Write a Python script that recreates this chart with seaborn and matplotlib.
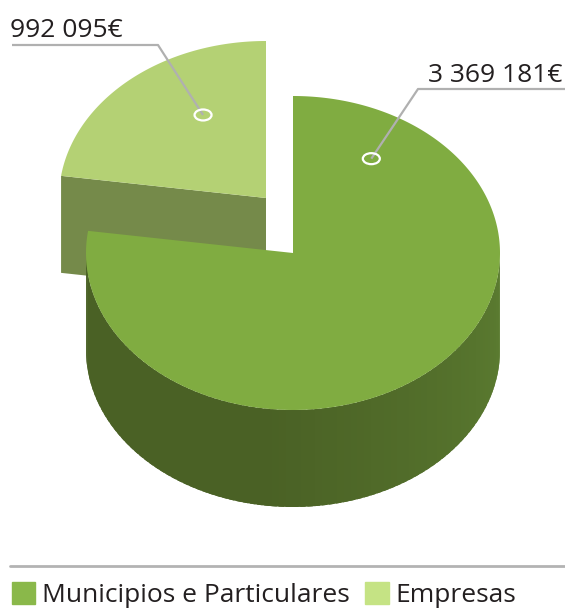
import numpy as np
import matplotlib
matplotlib.use("Agg")
from matplotlib import pyplot as plt
from matplotlib.patches import Polygon, Patch, Ellipse
import seaborn as sns

sns.set_theme(style="white")
plt.rcParams['font.family'] = ['Open Sans', 'DejaVu Sans']

# data
categories = ['Municipios e Particulares', 'Empresas']
values = [3369181, 992095]
label_text = [f"{v:,}".replace(",", " ") + "€" for v in values]

# colours
top_colors = ['#80ac41', '#b4d174']
legend_colors = ['#8ab84a', '#c5e384']
cut_color = '#758a4a'
side_dark = np.array(matplotlib.colors.to_rgb('#4a6125'))
side_light = np.array(matplotlib.colors.to_rgb('#5c7d31'))

# pie geometry (pixel space)
rx, ry, depth = 207, 157, 97
centers = [(293, 253), (266, 198)]  # big slice, exploded small slice

fig = plt.figure(figsize=(5.65, 6.08), dpi=100)
ax = fig.add_axes([0, 0, 1, 1])
ax.set_xlim(0, 565)
ax.set_ylim(608, 0)
ax.axis('off')


def pt(c, th, r=1.0):
    t = np.radians(th)
    return np.column_stack([c[0] + r * rx * np.cos(t), c[1] - r * ry * np.sin(t)])


fracs = np.array(values) / sum(values)
sweeps = fracs * 360
# small slice from 90 ccw, big slice takes the rest
small_a = (90, 90 + sweeps[1])
big_a = (90 + sweeps[1], 450)

# cut face of small slice
cs = centers[1]
pe = pt(cs, small_a[1])[0]
ax.add_patch(Polygon([cs, pe, (pe[0], pe[1] + depth), (cs[0], cs[1] + depth)],
                     closed=True, color=cut_color, lw=0))

# small top face
th = np.linspace(small_a[0], small_a[1], 200)
ax.add_patch(Polygon(np.vstack([[cs], pt(cs, th)]), closed=True, color=top_colors[1], lw=0))

# big slice side, drawn as overlapping strips for the shading
cb = centers[0]
edges = np.linspace(180, 360, 91)
for a0, a1 in zip(edges[:-1], edges[1:]):
    seg = np.linspace(a0, min(a1 + 1.5, 360), 6)
    top = pt(cb, seg)
    bot = top + [0, depth]
    f = np.clip((a0 - 262) / (360 - 262), 0, 1)
    col = side_dark + (side_light - side_dark) * f
    ax.add_patch(Polygon(np.vstack([top, bot[::-1]]), closed=True, color=col, lw=0))

# big top face
th = np.linspace(big_a[0], big_a[1], 400)
ax.add_patch(Polygon(np.vstack([[cb], pt(cb, th)]), closed=True, color=top_colors[0], lw=0))

# label anchors (angle, radius fraction) and leader lines
anchors = [(57.8, 0.71), (119.9, 0.61)]
elbows = [(418, 89), (158, 45)]
ends = [(565, 89), (12, 45)]
text_pos = [(562, 82), (10, 37)]
aligns = ['right', 'left']
for i in range(2):
    p = pt(centers[i], anchors[i][0], anchors[i][1])[0]
    ax.plot([p[0], elbows[i][0], ends[i][0]], [p[1], elbows[i][1], ends[i][1]],
            color='#b0b0b0', lw=1.6, solid_capstyle='butt', zorder=3)
    ax.add_patch(Ellipse(p, 17, 11, fill=False, ec='white', lw=1.6, zorder=4))
    ax.text(text_pos[i][0], text_pos[i][1], label_text[i], ha=aligns[i], va='baseline',
            fontsize=19, color='#231f20')

# separator
ax.plot([10, 565], [566, 566], color='#b3b3b3', lw=2)

handles = [Patch(color=legend_colors[i], label=categories[i]) for i in range(2)]
ax.legend(handles=handles, loc='lower left', bbox_to_anchor=(12 / 565, 0), ncol=2,
          frameon=False, fontsize=19, handlelength=0.88, handleheight=0.88,
          handletextpad=0.25, columnspacing=0.6, borderpad=0, borderaxespad=0,
          labelcolor='#231f20')

plt.savefig('out.png', dpi=100)
